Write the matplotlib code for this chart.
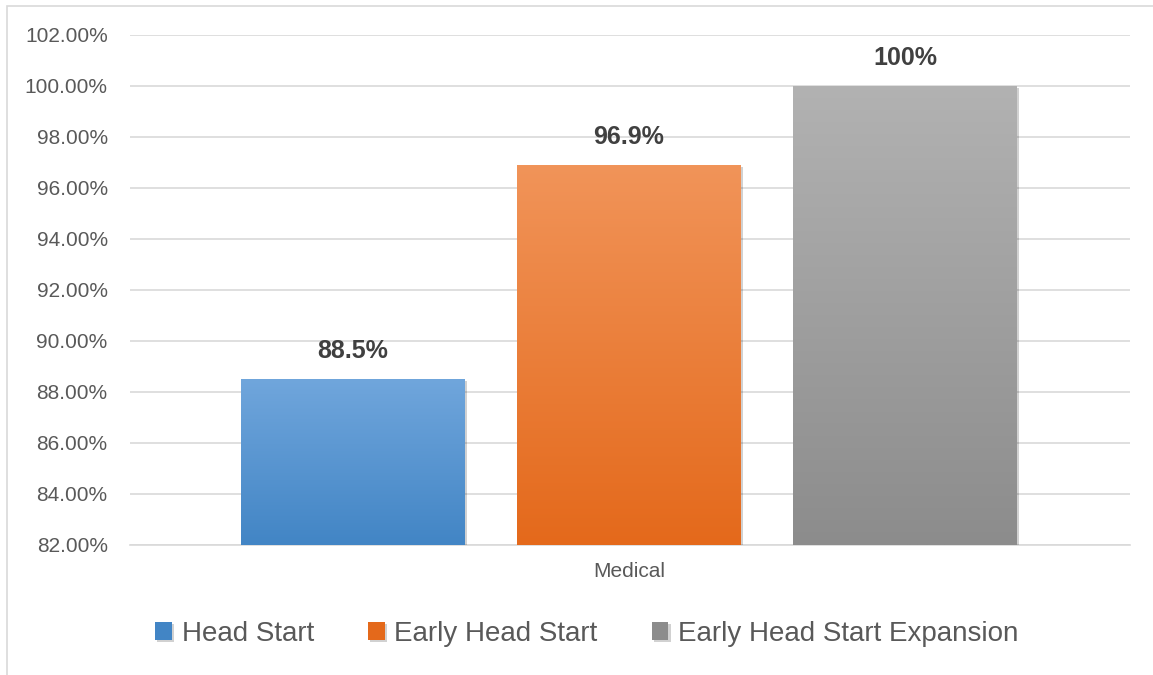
import matplotlib.pyplot as plt
import numpy as np
from matplotlib.colors import LinearSegmentedColormap
from matplotlib.patches import Rectangle
import matplotlib.patheffects as pe

# data
series = ["Head Start", "Early Head Start", "Early Head Start Expansion"]
values = [88.5, 96.9, 100.0]
labels = ["88.5%", "96.9%", "100%"]
category = "Medical"
top_colors = ["#70A6DC", "#F19459", "#B2B2B2"]
bottom_colors = ["#4285C5", "#E4691B", "#8C8C8C"]

plt.rcParams['font.family'] = ['Liberation Sans', 'DejaVu Sans']

fig = plt.figure(figsize=(11.53, 6.75), dpi=100)
ax = fig.add_axes([0.1127, 0.1926, 0.8673, 0.7556])

# light frame around the chart
fig.patches.append(Rectangle((7 / 1153, -0.01), 1.02, 1 - 6 / 675 + 0.01,
                             transform=fig.transFigure, fill=False,
                             edgecolor="#D9D9D9", linewidth=1.2))

ymin, ymax = 82, 102
x = np.arange(len(series)) - 1
width = 0.81

grad = np.linspace(0, 1, 256).reshape(-1, 1)
for i in range(len(series)):
    bar = ax.bar(x[i], values[i] - ymin, width, bottom=ymin, color=bottom_colors[i],
                 label=series[i], zorder=3,
                 path_effects=[pe.SimplePatchShadow(offset=(1.5, -1.5), shadow_rgbFace="#000000", alpha=0.18),
                               pe.Normal()])[0]
    cmap = LinearSegmentedColormap.from_list("g%d" % i, [bottom_colors[i], top_colors[i]])
    im = ax.imshow(grad, cmap=cmap, origin="lower", aspect="auto", zorder=4,
                   extent=(x[i] - width / 2, x[i] + width / 2, ymin, values[i]))
    im.set_clip_path(bar)
    ax.annotate(labels[i], (x[i], values[i]), xytext=(0, 20), textcoords="offset points",
                ha="center", va="center", fontsize=18, fontweight="bold", color="#404040")

ax.set_xlim(-1.808, 1.815)
ax.set_ylim(ymin, ymax)
ax.set_yticks(np.arange(82, 103, 2))
ax.set_yticklabels(["%.2f%%" % v for v in np.arange(82, 103, 2)])
ax.set_xticks([0])
ax.set_xticklabels([category])
ax.tick_params(axis="y", length=0, pad=16, labelsize=15, labelcolor="#595959")
ax.tick_params(axis="x", length=0, pad=12, labelsize=15, labelcolor="#595959")
ax.grid(axis="y", color="#D9D9D9", linewidth=1.2, zorder=0)
ax.set_axisbelow(True)
for s in ["left", "right", "top"]:
    ax.spines[s].set_visible(False)
ax.spines["bottom"].set_color("#D9D9D9")
ax.spines["bottom"].set_linewidth(1.2)

handles, lbls = ax.get_legend_handles_labels()
fig.legend(handles, lbls, loc="center", bbox_to_anchor=(0.509, 1 - 634 / 675), ncol=3,
           frameon=False, fontsize=20, handlelength=0.6, handleheight=0.6,
           handletextpad=0.35, columnspacing=1.95, labelcolor="#595959")

fig.savefig("out.png", dpi=100)
